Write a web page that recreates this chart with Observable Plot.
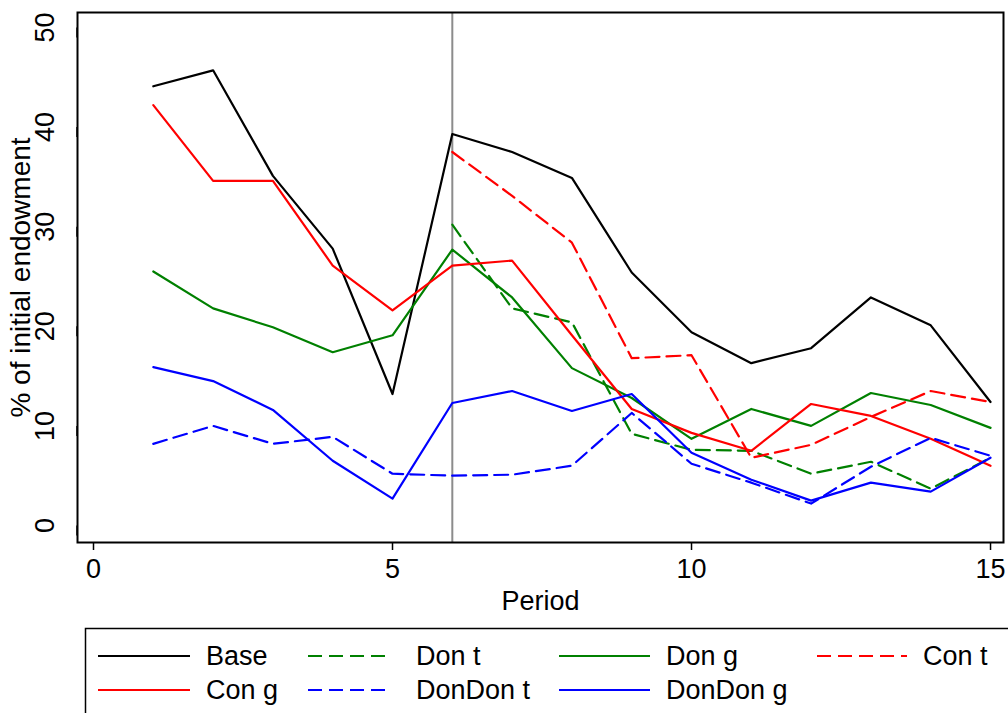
<!DOCTYPE html>
<html>
<head>
<meta charset="utf-8">
<script src="https://cdn.jsdelivr.net/npm/d3@7"></script>
<script src="https://cdn.jsdelivr.net/npm/@observablehq/plot@0.6"></script>
<style>
  html, body { margin: 0; padding: 0; background: #fff; }
  #chart { width: 1008px; height: 713px; overflow: hidden; font-family: "Liberation Sans", Arial, sans-serif; }
  svg { display: block; }
</style>
</head>
<body>
<div id="chart"></div>
<script>
const periods = [1, 2, 3, 4, 5, 6, 7, 8, 9, 10, 11, 12, 13, 14, 15];
const seriesNames = ["Base", "Don t", "Don g", "Con t", "Con g", "DonDon t", "DonDon g"];
const seriesColors = ["#000000", "#008000", "#008000", "#ff0000", "#ff0000", "#0000ff", "#0000ff"];
const seriesDashed = [false, true, false, true, false, true, false];

const base     = [44.1, 45.7, 35.1, 27.8, 13.2, 39.3, 37.5, 34.9, 25.4, 19.4, 16.3, 17.8, 22.9, 20.1, 12.4];
const donT     = [null, null, null, null, null, 30.2, 21.8, 20.4, 9.2, 7.6, 7.5, 5.2, 6.4, 3.7, 6.8];
const donG     = [25.5, 21.8, 19.9, 17.4, 19.1, 27.7, 22.9, 15.8, 12.8, 8.7, 11.7, 10.0, 13.3, 12.1, 9.8];
const conT     = [null, null, null, null, null, 37.5, 33.1, 28.4, 16.8, 17.1, 6.8, 8.1, 10.9, 13.5, 12.4];
const conG     = [42.2, 34.6, 34.6, 26.1, 21.6, 26.1, 26.6, 19.1, 11.7, 9.3, 7.5, 12.2, 11.0, 8.7, 6.0];
const donDonT  = [8.2, 10.0, 8.2, 8.9, 5.2, 5.0, 5.1, 6.0, 11.3, 6.2, 4.3, 2.2, 5.9, 8.8, 7.0];
const donDonG  = [15.9, 14.5, 11.6, 6.5, 2.7, 12.3, 13.5, 11.5, 13.2, 7.3, 4.6, 2.5, 4.3, 3.4, 6.8];

const xTicks = [0, 5, 10, 15];
const yTicks = [0, 10, 20, 30, 40, 50];
const treatmentStart = [6];

const seriesValues = [base, donT, donG, conT, conG, donDonT, donDonG];
const data = [];
seriesNames.forEach((name, i) => {
  periods.forEach((p, j) => {
    data.push({series: name, period: p, value: seriesValues[i][j]});
  });
});

const FONT = "Liberation Sans, Arial, sans-serif";
const DASH = "14,7";
const FS = 27;

const lineMarks = seriesNames.map((name, i) =>
  Plot.line(data.filter(d => d.series === name && d.value != null), {
    x: "period", y: "value",
    stroke: seriesColors[i], strokeWidth: 2.2,
    strokeDasharray: seriesDashed[i] ? DASH : null
  })
);

const plot = Plot.plot({
  width: 1008,
  height: 620,
  marginLeft: 77,
  marginRight: 5,
  marginTop: 12,
  marginBottom: 78,
  style: {fontFamily: FONT, fontSize: FS + "px", background: "#fff", color: "#000"},
  x: {domain: [-0.2676, 15.217]},
  y: {domain: [-1.707, 51.506]},
  marks: [
    Plot.ruleX(treatmentStart, {stroke: "#8c8c8c", strokeWidth: 2}),
    ...lineMarks,
    Plot.frame({stroke: "#000", strokeWidth: 2}),
    Plot.axisX({ticks: xTicks, tickSize: 8, tickPadding: 8, fontSize: FS, strokeWidth: 1.5,
      label: null}),
    Plot.axisX({ticks: [], label: "Period", labelAnchor: "center", labelArrow: "none",
      labelOffset: 67, fontSize: FS}),
    Plot.axisY({ticks: yTicks, tickSize: 10, tickPadding: 22, fontSize: FS, strokeWidth: 1.5,
      rotate: -90, textAnchor: "middle", label: null}),
    Plot.axisY({ticks: [], label: "% of initial endowment", labelAnchor: "center", labelArrow: "none",
      labelOffset: 67, fontSize: 28})
  ]
});
document.getElementById("chart").appendChild(plot);

// Legend below the chart
const legendH = 93;
const legend = d3.create("svg").attr("width", 1008).attr("height", legendH);
legend.append("rect").attr("x", 85.5).attr("y", 8.5).attr("width", 940).attr("height", 120)
  .attr("fill", "none").attr("stroke", "#000").attr("stroke-width", 1.5);
const colLine = [[98, 190], [308, 392], [559, 650], [817, 907]];
const colText = [206, 416, 666, 923];
const rowY = [36, 70];
seriesNames.forEach((name, i) => {
  const c = i % 4, r = Math.floor(i / 4);
  legend.append("line")
    .attr("x1", colLine[c][0]).attr("x2", colLine[c][1])
    .attr("y1", rowY[r]).attr("y2", rowY[r])
    .attr("stroke", seriesColors[i]).attr("stroke-width", 2.2)
    .attr("stroke-dasharray", seriesDashed[i] ? DASH : null);
  legend.append("text")
    .attr("x", colText[c]).attr("y", rowY[r] + 9)
    .attr("font-family", FONT).attr("font-size", FS)
    .text(name);
});
document.getElementById("chart").appendChild(legend.node());
</script>
</body>
</html>
